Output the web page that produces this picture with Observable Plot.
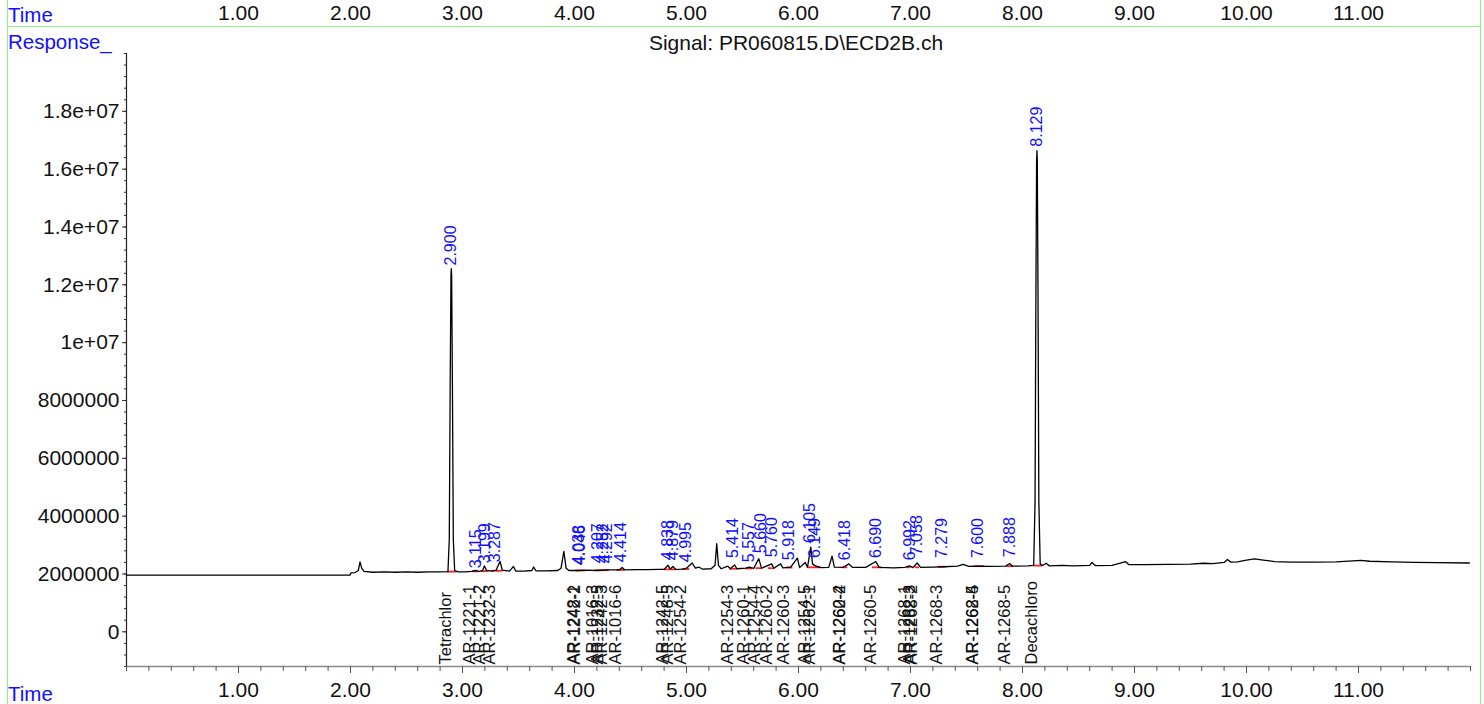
<!DOCTYPE html>
<html>
<head>
<meta charset="utf-8">
<script src="https://cdn.jsdelivr.net/npm/d3@7"></script>
<script src="https://cdn.jsdelivr.net/npm/@observablehq/plot@0.6"></script>
<style>
  body { margin: 0; background: #fff; }
  #chart { position: relative; width: 1484px; height: 704px; overflow: hidden;
           font-family: "Liberation Sans", Arial, sans-serif; }
  #chart svg { position: absolute; left: 0; top: 0; }
  .vline { position: absolute; top: 0; height: 704px; width: 0; border-left: 1.5px solid #8cf28c; }
  .hline { position: absolute; height: 0; border-top: 1.5px solid #8cf28c; }
  .lbl { position: absolute; font-size: 20.5px; line-height: 20px; white-space: nowrap; }
  .blue { color: #1010ff; }
</style>
</head>
<body>
<div id="chart">
  <div class="vline" style="left:7px"></div>
  <div class="vline" style="left:1480px"></div>
  <div class="hline" style="left:7px; width:1473px; top:26px"></div>
  <div class="lbl blue" style="left:8px; top:5px">Time</div>
  <div class="lbl blue" style="left:8px; top:32px">Response_</div>
  <div class="lbl blue" style="left:8px; top:684px">Time</div>
  <div class="lbl" id="title" style="left:0; width:1592px; text-align:center; top:33px; color:#111; font-size:21px">Signal: PR060815.D\ECD2B.ch</div>
</div>
<script>
// Detector trace: [retention time (min), response (x 10^6)]
const signal = [
  [0, 1.96], [1.995, 1.96], [2.005, 2.04], [2.04, 2.05], [2.07, 2.12], [2.085, 2.42],
  [2.10, 2.20], [2.12, 2.09], [2.2, 2.06], [2.3, 2.07], [2.4, 2.06], [2.5, 2.07],
  [2.6, 2.06], [2.7, 2.07], [2.8, 2.07], [2.87, 2.08], [2.882, 3.2], [2.89, 8.5],
  [2.897, 12.3], [2.900, 12.56], [2.903, 12.3], [2.91, 8.5], [2.918, 3.2], [2.93, 2.12],
  [2.96, 2.07], [3.02, 2.07], [3.08, 2.09], [3.115, 2.12], [3.15, 2.09], [3.18, 2.12],
  [3.195, 2.28], [3.215, 2.12], [3.26, 2.10], [3.30, 2.13], [3.335, 2.44], [3.355, 2.13],
  [3.42, 2.10], [3.455, 2.26], [3.475, 2.10], [3.55, 2.10], [3.62, 2.12], [3.635, 2.24],
  [3.655, 2.11], [3.75, 2.11], [3.85, 2.12], [3.88, 2.20], [3.905, 2.78], [3.925, 2.20],
  [3.95, 2.12], [4.04, 2.12], [4.1, 2.13], [4.2, 2.12], [4.3, 2.14], [4.4, 2.14],
  [4.425, 2.22], [4.45, 2.14], [4.55, 2.15], [4.65, 2.15], [4.75, 2.16], [4.80, 2.16],
  [4.835, 2.30], [4.855, 2.17], [4.88, 2.26], [4.90, 2.16], [4.97, 2.17], [5.00, 2.20],
  [5.05, 2.38], [5.08, 2.20], [5.11, 2.24], [5.14, 2.17], [5.22, 2.18], [5.255, 2.30],
  [5.27, 3.05], [5.285, 2.30], [5.31, 2.18], [5.37, 2.27], [5.39, 2.18], [5.43, 2.31],
  [5.45, 2.18], [5.53, 2.20], [5.56, 2.24], [5.60, 2.19], [5.645, 2.53], [5.67, 2.20],
  [5.76, 2.35], [5.78, 2.20], [5.84, 2.35], [5.86, 2.21], [5.93, 2.24], [5.99, 2.55],
  [6.01, 2.22], [6.06, 2.40], [6.08, 2.23], [6.11, 2.93], [6.125, 2.35], [6.15, 2.28],
  [6.2, 2.22], [6.27, 2.23], [6.30, 2.62], [6.32, 2.24], [6.4, 2.23], [6.45, 2.35],
  [6.48, 2.23], [6.6, 2.23], [6.69, 2.43], [6.72, 2.23], [6.85, 2.21], [6.95, 2.23],
  [6.99, 2.28], [7.02, 2.22], [7.06, 2.38], [7.09, 2.23], [7.2, 2.24], [7.3, 2.25],
  [7.42, 2.27], [7.47, 2.33], [7.52, 2.26], [7.6, 2.27], [7.7, 2.26], [7.85, 2.27],
  [7.885, 2.36], [7.91, 2.27], [8.05, 2.28], [8.10, 2.30], [8.112, 4.5], [8.12, 12.0],
  [8.126, 16.3], [8.129, 16.64], [8.132, 16.3], [8.138, 12.0], [8.146, 4.5], [8.158, 2.35],
  [8.18, 2.29], [8.21, 2.37], [8.24, 2.28], [8.35, 2.30], [8.45, 2.28], [8.6, 2.30],
  [8.62, 2.40], [8.65, 2.29], [8.8, 2.30], [8.92, 2.43], [8.95, 2.32], [9.1, 2.32],
  [9.3, 2.33], [9.5, 2.34], [9.62, 2.37], [9.7, 2.36], [9.8, 2.40], [9.83, 2.50],
  [9.86, 2.41], [9.92, 2.42], [10.0, 2.48], [10.07, 2.52], [10.15, 2.48], [10.25, 2.43],
  [10.4, 2.41], [10.6, 2.41], [10.8, 2.42], [10.95, 2.45], [11.02, 2.47], [11.1, 2.44],
  [11.3, 2.42], [11.5, 2.40], [11.7, 2.39], [11.99, 2.38]
];

// Integrated peaks: retention time and label height (x 10^6)
const peakTimes = [2.900, 3.115, 3.199, 3.287, 4.038, 4.046, 4.207, 4.252, 4.292, 4.414,
  4.838, 4.879, 4.995, 5.414, 5.557, 5.660, 5.760, 5.918, 6.105, 6.149, 6.418, 6.690,
  6.992, 7.058, 7.279, 7.600, 7.888, 8.129];
const peakHeights = [12.53, 2.06, 2.23, 2.27, 2.17, 2.17, 2.23, 2.23, 2.23, 2.27,
  2.34, 2.34, 2.27, 2.41, 2.27, 2.58, 2.44, 2.34, 2.93, 2.41, 2.34, 2.41,
  2.34, 2.51, 2.41, 2.41, 2.44, 16.64];

// Compound identifications
const compoundNames = ["Tetrachlor", "AR-1221-1", "AR-1221-2", "AR-1232-3", "AR-1248-1",
  "AR-1242-2", "AR-1016-3", "AR-1232-5", "AR-1242-3", "AR-1016-6", "AR-1242-5",
  "AR-1248-5", "AR-1254-2", "AR-1254-3", "AR-1260-1", "AR-1254-4", "AR-1260-2",
  "AR-1260-3", "AR-1254-5", "AR-1262-1", "AR-1260-4", "AR-1262-2", "AR-1260-5",
  "AR-1268-1", "AR-1262-3", "AR-1268-2", "AR-1268-3", "AR-1262-5", "AR-1268-4",
  "AR-1268-5", "Decachloro"];
const compoundTimes = [2.900, 3.115, 3.199, 3.287, 4.038, 4.046, 4.207, 4.252, 4.292,
  4.414, 4.838, 4.879, 4.995, 5.414, 5.557, 5.660, 5.760, 5.918, 6.105, 6.149, 6.418,
  6.418, 6.690, 6.992, 7.040, 7.058, 7.279, 7.600, 7.600, 7.888, 8.129];

// Integration baselines: start, end (min), level (x 10^6)
const baseStart = [2.86, 3.09, 3.17, 3.26, 4.01, 4.19, 4.38, 4.80, 4.96, 5.39, 5.53, 5.62,
  5.73, 5.89, 6.08, 6.39, 6.66, 6.97, 7.04, 7.25, 7.57, 7.86, 8.10];
const baseEnd = [2.95, 3.14, 3.23, 3.36, 4.10, 4.31, 4.45, 4.91, 5.03, 5.46, 5.59, 5.68,
  5.79, 5.95, 6.20, 6.44, 6.75, 7.00, 7.08, 7.32, 7.66, 7.92, 8.18];
const baseLevel = [2.08, 2.09, 2.10, 2.11, 2.12, 2.13, 2.14, 2.16, 2.17, 2.18, 2.19, 2.20,
  2.20, 2.22, 2.23, 2.23, 2.23, 2.23, 2.23, 2.25, 2.27, 2.27, 2.29];

// Axes
const timeDomain = [0, 12];
const responseDomain = [-1.2e6, 2.0e7];
const xTickValues = [1, 2, 3, 4, 5, 6, 7, 8, 9, 10, 11];
const xTickLabels = ["1.00", "2.00", "3.00", "4.00", "5.00", "6.00", "7.00", "8.00", "9.00", "10.00", "11.00"];
const yTickValues = [0, 2e6, 4e6, 6e6, 8e6, 1e7, 1.2e7, 1.4e7, 1.6e7, 1.8e7];
const yTickLabels = ["0", "2000000", "4000000", "6000000", "8000000", "1e+07", "1.2e+07", "1.4e+07", "1.6e+07", "1.8e+07"];

const M = 1e6;
const traceRows = signal.map(([t, r]) => ({t, v: r * M}));
const peakRows = peakTimes.map((t, i) => ({t, v: peakHeights[i] * M, label: t.toFixed(3)}));
const compoundRows = compoundNames.map((name, i) => ({name, t: compoundTimes[i]}));
const baseRows = baseStart.map((s, i) => ({x1: s, x2: baseEnd[i], y: baseLevel[i] * M}));
const xLabelOf = new Map(xTickValues.map((v, i) => [v, xTickLabels[i]]));
const yLabelOf = new Map(yTickValues.map((v, i) => [v, yTickLabels[i]]));
const xMinor = d3.range(0, 61).map(i => i / 5);
const yMinor = d3.range(-3, 51).map(i => i * 4e5);

const chart = Plot.plot({
  width: 1484,
  height: 704,
  marginTop: 53,
  marginBottom: 38,
  marginLeft: 126,
  marginRight: 14,
  x: {domain: timeDomain, label: null},
  y: {domain: responseDomain, label: null},
  style: {fontFamily: "Liberation Sans, Arial, sans-serif", fontSize: "21px", color: "#111", background: "transparent", overflow: "visible"},
  marks: [
    Plot.ruleY([responseDomain[0]], {stroke: "#8a8a8a", strokeWidth: 1.6}),
    Plot.ruleX([timeDomain[0]], {y1: responseDomain[0], y2: responseDomain[1], stroke: "#222", strokeWidth: 1.2}),
    Plot.axisX(xMinor, {anchor: "bottom", tickSize: 5, tickFormat: () => "", stroke: "#555", label: null}),
    Plot.axisX(xTickValues, {anchor: "bottom", tickSize: 7, tickPadding: 9, tickFormat: d => xLabelOf.get(d), stroke: "#555", fontSize: 21, label: null}),
    Plot.axisX(xTickValues, {anchor: "top", tickSize: 0, tickPadding: 34, tickFormat: d => xLabelOf.get(d), fontSize: 21, label: null}),
    Plot.axisY(yMinor, {anchor: "left", tickSize: 2, tickFormat: () => "", stroke: "#333", label: null}),
    Plot.axisY(yTickValues, {anchor: "left", tickSize: 4, tickPadding: 3, tickFormat: d => yLabelOf.get(d), stroke: "#333", fontSize: 21, label: null}),
    Plot.ruleY(baseRows, {x1: "x1", x2: "x2", y: "y", stroke: "#ff2020", strokeWidth: 1.8}),
    Plot.line(traceRows, {x: "t", y: "v", stroke: "#000", strokeWidth: 1.3}),
    Plot.text(peakRows, {x: "t", y: "v", text: "label", rotate: -90, textAnchor: "start", dy: -4, fill: "#1010ff", fontSize: 16}),
    Plot.text(compoundRows, {x: "t", frameAnchor: "bottom", text: "name", rotate: -90, textAnchor: "start", dy: -2, fill: "#111", fontSize: 16.5})
  ]
});
document.getElementById("chart").prepend(chart);
</script>
</body>
</html>
